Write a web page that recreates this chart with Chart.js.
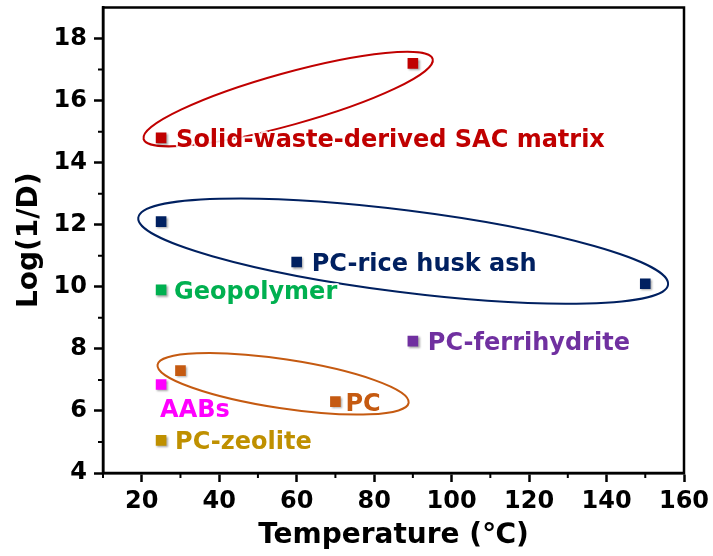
<!DOCTYPE html>
<html>
<head>
<meta charset="utf-8">
<title>Log(1/D) vs Temperature</title>
<script src="https://cdn.jsdelivr.net/npm/chart.js"></script>
<style>
    html, body { margin: 0; padding: 0; background: #fff; }
    .chart-box { width: 713px; height: 556px; }
</style>
</head>
<body>
<div class="chart-box">
    <canvas id="scatterChart" width="713" height="556"></canvas>
</div>
<script>
    // one group of points per material
    const materials = ['Solid-waste-derived SAC matrix', 'PC-rice husk ash', 'Geopolymer', 'PC-ferrihydrite', 'PC', 'AABs', 'PC-zeolite'];
    // temperature (°C) of each point
    const temperature = [[25, 90], [25, 60, 150], [25], [90], [30, 70], [25], [25]];
    // Log(1/D) of each point
    const logInvD = [[14.8, 17.2], [12.1, 10.8, 10.1], [9.9], [8.25], [7.3, 6.3], [6.85], [5.05]];

    // axis ticks
    const xTicks = [20, 40, 60, 80, 100, 120, 140, 160];
    const xMinor = [10, 30, 50, 70, 90, 110, 130, 150];
    const yTicks = [4, 6, 8, 10, 12, 14, 16, 18];
    const yMinor = [5, 7, 9, 11, 13, 15, 17];

    const colours = ['#C00000', '#002060', '#00B050', '#7030A0', '#C55A11', '#FF00FF', '#BF9000'];

    // text next to each group: which point it hangs on, and pixel offset
    const labelSpots = [
        { point: 0, dx: 15, dy: 0 },
        { point: 1, dx: 15, dy: 0 },
        { point: 0, dx: 13, dy: 0 },
        { point: 0, dx: 15, dy: 0 },
        { point: 1, dx: 10, dy: 0 },
        { point: 0, dx: -1, dy: 23 },
        { point: 0, dx: 14, dy: 0 }
    ];

    // rings drawn around some groups (centre in data units, radii in px)
    const rings = [
        { group: 0, cx: 57.8, cy: 16.05, rx: 150, ry: 26, angle: -15.5 },
        { group: 1, cx: 87.5, cy: 11.15, rx: 267, ry: 41, angle: 7.2 },
        { group: 4, cx: 56.5, cy: 6.875, rx: 127, ry: 24.5, angle: 8.6 }
    ];

    const FONT = '"DejaVu Sans", sans-serif';

    const overlay = {
        id: 'overlay',
        beforeDatasetsDraw(chart) {
            const ctx = chart.ctx;
            const xs = chart.scales.x, ys = chart.scales.y;
            ctx.save();
            rings.forEach(r => {
                ctx.beginPath();
                ctx.ellipse(xs.getPixelForValue(r.cx), ys.getPixelForValue(r.cy), r.rx, r.ry,
                    r.angle * Math.PI / 180, 0, Math.PI * 2);
                ctx.strokeStyle = colours[r.group];
                ctx.lineWidth = 2;
                ctx.stroke();
            });
            ctx.restore();
        },
        beforeDatasetDraw(chart) {
            const ctx = chart.ctx;
            ctx.save();
            ctx.shadowColor = 'rgba(0,0,0,0.35)';
            ctx.shadowBlur = 2;
            ctx.shadowOffsetX = 1.5;
            ctx.shadowOffsetY = 1.5;
        },
        afterDatasetDraw(chart) {
            chart.ctx.restore();
        },
        afterDatasetsDraw(chart) {
            const ctx = chart.ctx;
            ctx.save();
            ctx.font = 'bold 24px ' + FONT;
            ctx.textBaseline = 'alphabetic';
            ctx.textAlign = 'left';
            ctx.lineJoin = 'round';
            materials.forEach((name, k) => {
                const spot = labelSpots[k];
                const el = chart.getDatasetMeta(k).data[spot.point];
                const tx = el.x + spot.dx, ty = el.y + spot.dy + 9;
                // soft white halo so ring lines fade under the text
                ctx.strokeStyle = 'rgba(255,255,255,0.85)';
                ctx.lineWidth = 4;
                ctx.strokeText(name, tx, ty);
                ctx.fillStyle = colours[k];
                ctx.fillText(name, tx, ty);
            });
            ctx.restore();
        },
        afterDraw(chart) {
            const ctx = chart.ctx;
            const a = chart.chartArea;
            const xs = chart.scales.x, ys = chart.scales.y;
            ctx.save();
            ctx.strokeStyle = '#000';
            ctx.lineWidth = 2.5;
            ctx.beginPath();
            ctx.moveTo(a.left, a.bottom);
            ctx.lineTo(a.left, a.top);
            ctx.lineTo(a.right, a.top);
            ctx.lineTo(a.right, a.bottom);
            ctx.lineTo(a.left, a.bottom);
            ctx.closePath();
            ctx.stroke();
            ctx.beginPath();
            xMinor.forEach(v => {
                const px = xs.getPixelForValue(v);
                ctx.moveTo(px, a.bottom);
                ctx.lineTo(px, a.bottom + 5);
            });
            yMinor.forEach(v => {
                const py = ys.getPixelForValue(v);
                ctx.moveTo(a.left, py);
                ctx.lineTo(a.left - 5, py);
            });
            ctx.lineWidth = 2;
            ctx.stroke();
            ctx.restore();
        }
    };

    const axisFont = { family: FONT, size: 24, weight: 'bold' };
    const titleFont = { family: FONT, size: 28, weight: 'bold' };

    const ctx = document.getElementById('scatterChart').getContext('2d');
    new Chart(ctx, {
        type: 'scatter',
        data: {
            datasets: materials.map((name, k) => ({
                label: name,
                data: temperature[k].map((t, j) => ({ x: t, y: logInvD[k][j] })),
                backgroundColor: colours[k],
                borderColor: colours[k],
                borderWidth: 0,
                pointStyle: 'rect',
                pointRadius: 7.5,
                pointHoverRadius: 7.5
            }))
        },
        options: {
            responsive: false,
            animation: false,
            devicePixelRatio: 1,
            layout: { padding: { top: 5, right: 29, bottom: 0, left: 0 } },
            plugins: {
                legend: { display: false },
                tooltip: { enabled: false }
            },
            scales: {
                x: {
                    type: 'linear',
                    min: 10,
                    max: 160,
                    afterBuildTicks: s => { s.ticks = xTicks.map(v => ({ value: v })); },
                    afterFit: s => { s.height = 83; s.paddingLeft = 0; s.paddingRight = 0; },
                    ticks: { color: '#000', padding: 5, font: axisFont },
                    grid: { drawOnChartArea: false, drawTicks: true, tickLength: 9, tickWidth: 2.5, tickColor: '#000' },
                    border: { display: true, color: '#000', width: 2.5 },
                    title: {
                        display: true,
                        text: 'Temperature (℃)',
                        color: '#000',
                        font: titleFont,
                        padding: { top: 0, bottom: 3 }
                    }
                },
                y: {
                    type: 'linear',
                    min: 4,
                    max: 19,
                    afterBuildTicks: s => { s.ticks = yTicks.map(v => ({ value: v })); },
                    afterFit: s => { s.width = 103; s.paddingTop = 0; s.paddingBottom = 0; },
                    ticks: { color: '#000', padding: 7, font: axisFont },
                    grid: { drawOnChartArea: false, drawTicks: true, tickLength: 9, tickWidth: 2.5, tickColor: '#000' },
                    border: { display: true, color: '#000', width: 2.5 },
                    title: {
                        display: true,
                        text: 'Log(1/D)',
                        color: '#000',
                        font: titleFont,
                        padding: { top: 13, bottom: 0 }
                    }
                }
            }
        },
        plugins: [overlay]
    });
</script>
</body>
</html>
